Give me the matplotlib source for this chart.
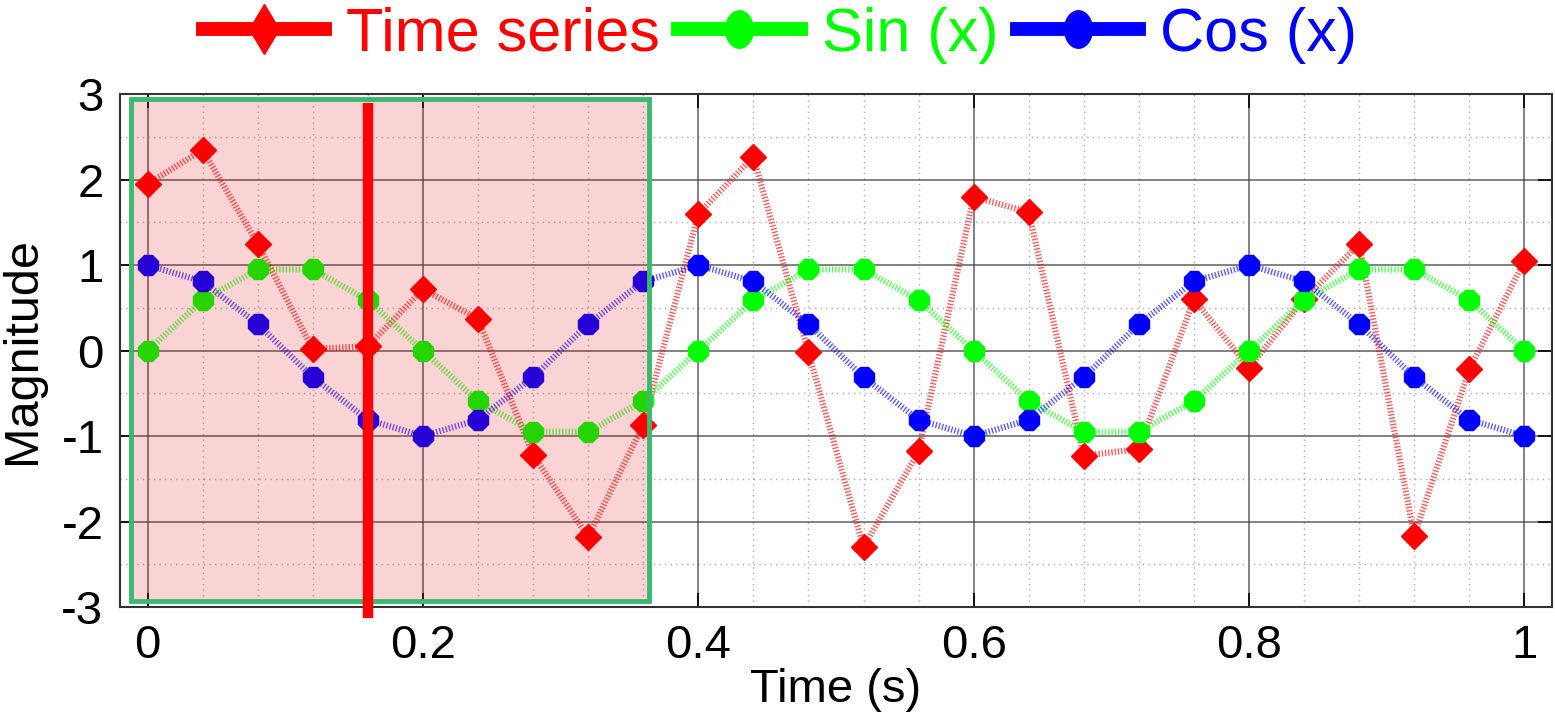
import matplotlib
matplotlib.use("Agg")
import matplotlib.pyplot as plt
from matplotlib.lines import Line2D
from matplotlib.patches import Rectangle
from matplotlib.path import Path
from matplotlib.ticker import MultipleLocator
import numpy as np

plt.rcParams['font.family'] = ['Liberation Sans', 'DejaVu Sans']
plt.rcParams['axes.unicode_minus'] = False

# values
time = [0.00, 0.04, 0.08, 0.12, 0.16, 0.20, 0.24, 0.28, 0.32, 0.36,
        0.40, 0.44, 0.48, 0.52, 0.56, 0.60, 0.64, 0.68, 0.72, 0.76,
        0.80, 0.84, 0.88, 0.92, 0.96, 1.00]
series = [1.95, 2.35, 1.25, 0.02, 0.05, 0.72, 0.37, -1.22, -2.18, -0.87,
          1.60, 2.27, -0.02, -2.30, -1.18, 1.80, 1.62, -1.23, -1.15, 0.60,
          -0.20, 0.60, 1.25, -2.17, -0.22, 1.05]
sin_x = [0.00, 0.59, 0.95, 0.95, 0.59, 0.00, -0.59, -0.95, -0.95, -0.59,
         0.00, 0.59, 0.95, 0.95, 0.59, 0.00, -0.59, -0.95, -0.95, -0.59,
         0.00, 0.59, 0.95, 0.95, 0.59, 0.00]
cos_x = [1.00, 0.81, 0.31, -0.31, -0.81, -1.00, -0.81, -0.31, 0.31, 0.81,
         1.00, 0.81, 0.31, -0.31, -0.81, -1.00, -0.81, -0.31, 0.31, 0.81,
         1.00, 0.81, 0.31, -0.31, -0.81, -1.00]
labels = ['Time series', 'Sin (x)', 'Cos (x)']
colors = ['#ff0000', '#00ff00', '#0000ff']

# highlighted window and marker line
win_x = (-0.012, 0.364)
win_y = (-2.93, 2.94)
mark_t = 0.16

fig = plt.figure(figsize=(15.55, 7.2), dpi=100)
ax = fig.add_axes([0.0772, 0.157, 0.9208, 0.712])

dots = (0, (0.22, 0.3))
ax.plot(time, series, color=colors[0], lw=4.5, ls=dots, alpha=0.65, zorder=3)
ax.plot(time, series, ls='none', marker='D', ms=13, color=colors[0], zorder=3)
ax.plot(time, sin_x, color=colors[1], lw=4.5, ls=dots, alpha=0.65, zorder=3)
ax.plot(time, sin_x, ls='none', marker='8', ms=15, color=colors[1], zorder=3)
ax.plot(time, cos_x, color=colors[2], lw=4.5, ls=dots, alpha=0.65, zorder=3)
ax.plot(time, cos_x, ls='none', marker='8', ms=15, color=colors[2], zorder=3)

ax.add_patch(Rectangle((win_x[0], win_y[0]), win_x[1] - win_x[0], win_y[1] - win_y[0],
                       facecolor=(0.9, 0, 0, 0.17), edgecolor='#3cb96e', lw=3.5, zorder=4))
ax.plot([mark_t, mark_t], [2.9, -3.13], color='#ff0000', lw=7.5,
        solid_capstyle='butt', clip_on=False, zorder=5)

ax.set_xlim(-0.02, 1.02)
ax.set_ylim(-3, 3)
ax.set_xticks([0, 0.2, 0.4, 0.6, 0.8, 1])
ax.set_xticklabels(['0', '0.2', '0.4', '0.6', '0.8', '1'])
ax.set_yticks([-3, -2, -1, 0, 1, 2, 3])
ax.xaxis.set_minor_locator(MultipleLocator(0.04))
ax.yaxis.set_minor_locator(MultipleLocator(0.5))
ax.grid(which='major', color='#444444', lw=1.1, ls='-', alpha=0.85)
ax.grid(which='minor', color='#888888', lw=1, ls=(0, (1, 3)), alpha=0.7)
ax.tick_params(which='major', direction='in', length=10, width=1.2,
               top=True, right=True, labelsize=34, pad=12)
ax.tick_params(which='minor', length=0)
for s in ax.spines.values():
    s.set_color('#333333')
    s.set_linewidth(1.5)

ax.set_xlabel('Time (s)', fontsize=34, labelpad=0)
ax.set_ylabel('Magnitude', fontsize=35, labelpad=12)

# legend with tall markers like the original
theta = np.linspace(0, 2 * np.pi, 40)
ellipse = Path(np.column_stack([0.37 * np.cos(theta), 0.5 * np.sin(theta)]), closed=True)
handles = [
    Line2D([], [], color=colors[0], lw=10, marker='d', ms=25, label=labels[0]),
    Line2D([], [], color=colors[1], lw=10, marker=ellipse, ms=27, label=labels[1]),
    Line2D([], [], color=colors[2], lw=10, marker=ellipse, ms=27, label=labels[2]),
]
leg = fig.legend(handles=handles, loc='center', bbox_to_anchor=(0.5016, 0.951),
                 ncol=3, frameon=False, fontsize=44, handlelength=2.0,
                 handletextpad=0.35, columnspacing=0.3, borderaxespad=0)
for txt, c in zip(leg.get_texts(), colors):
    txt.set_color(c)

fig.savefig('out.png', dpi=100)
